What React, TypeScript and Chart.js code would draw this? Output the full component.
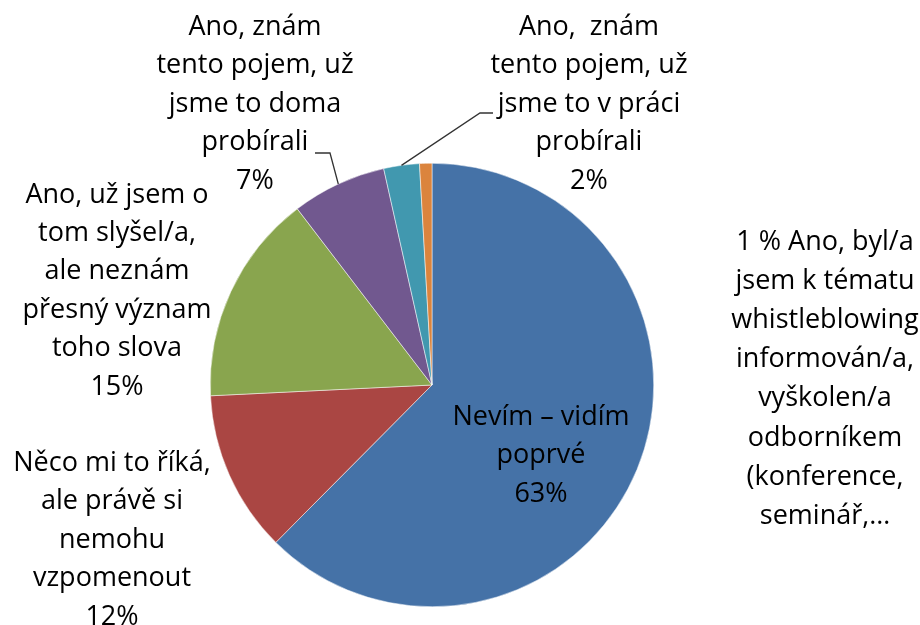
import React, { useEffect, useRef } from "react";
import { Chart, registerables } from "chart.js";

Chart.register(...registerables);

const categories: string[] = [
  "Nevím – vidím poprvé",
  "Něco mi to říká, ale právě si nemohu vzpomenout",
  "Ano, už jsem o tom slyšel/a, ale neznám přesný význam toho slova",
  "Ano, znám tento pojem, už jsme to doma probírali",
  "Ano, znám tento pojem, už jsme to v práci probírali",
  "Ano, byl/a jsem k tématu whistleblowing informován/a, vyškolen/a odborníkem (konference, seminář,…",
];
const values: number[] = [62.5, 11.8, 15.4, 6.9, 2.6, 0.9];
const percentLabels: string[] = ["63%", "12%", "15%", "7%", "2%", "1 %"];
const colors: string[] = ["#4572A7", "#AA4643", "#89A54E", "#71588F", "#4198AF", "#DB843D"];

const labelLines: string[][] = [
  ["Nevím – vidím", "poprvé", "63%"],
  ["Něco mi to říká,", "ale právě si", "nemohu", "vzpomenout", "12%"],
  ["Ano, už jsem o", "tom slyšel/a,", "ale neznám", "přesný význam", "toho slova", "15%"],
  ["Ano, znám", "tento pojem, už", "jsme to doma", "probírali", "7%"],
  ["Ano,  znám", "tento pojem, už", "jsme to v práci", "probírali", "2%"],
  ["1 % Ano, byl/a", "jsem k tématu", "whistleblowing", "informován/a,", "vyškolen/a", "odborníkem", "(konference,", "seminář,…"],
];

// label layout: center x, first line center y, line spacing
const labelLayout = [
  { x: 541, y: 417, dy: 38.5 },
  { x: 112, y: 463, dy: 38.5 },
  { x: 117, y: 195, dy: 38.4 },
  { x: 255, y: 27, dy: 38.5 },
  { x: 589, y: 27, dy: 38.5 },
  { x: 825, y: 242, dy: 39.2 },
];

// leader lines: label-side elbow points (start, elbow)
const leaders: Record<number, number[][]> = {
  3: [[315, 153], [330, 153]],
  4: [[493, 113], [480, 113]],
};

const labelPlugin = {
  id: "pieLabels",
  afterDraw(chart: any) {
    const ctx = chart.ctx;
    const meta = chart.getDatasetMeta(0);
    ctx.save();
    ctx.font = '27px "Open Sans", sans-serif';
    ctx.fillStyle = "#000";
    ctx.textAlign = "center";
    ctx.textBaseline = "middle";
    labelLines.forEach((lines, i) => {
      const l = labelLayout[i];
      lines.forEach((t, j) => ctx.fillText(t, l.x, l.y + j * l.dy));
    });
    ctx.strokeStyle = "#333";
    ctx.lineWidth = 1.3;
    Object.keys(leaders).forEach((k) => {
      const i = Number(k);
      const arc = meta.data[i];
      const p = arc.getProps(["x", "y", "startAngle", "endAngle", "outerRadius"], true);
      const mid = (p.startAngle + p.endAngle) / 2;
      const ax = p.x + Math.cos(mid) * p.outerRadius;
      const ay = p.y + Math.sin(mid) * p.outerRadius;
      const pts = leaders[i];
      ctx.beginPath();
      ctx.moveTo(pts[0][0], pts[0][1]);
      ctx.lineTo(pts[1][0], pts[1][1]);
      ctx.lineTo(ax, ay);
      ctx.stroke();
    });
    ctx.restore();
  },
};

export default function App() {
  const ref = useRef<HTMLCanvasElement>(null);
  useEffect(() => {
    if (!ref.current) return;
    const chart = new Chart(ref.current, {
      type: "pie",
      data: {
        labels: categories,
        datasets: [
          {
            data: values,
            backgroundColor: colors,
            borderColor: "#ffffff",
            borderWidth: 0.5,
          },
        ],
      },
      options: {
        animation: false,
        responsive: false,
        layout: { padding: { left: 210, right: 266, top: 163, bottom: 18 } },
        plugins: {
          legend: { display: false },
          tooltip: { enabled: false },
        },
      },
      plugins: [labelPlugin],
    });
    return () => chart.destroy();
  }, []);
  return (
    <div style={{ position: "absolute", left: 0, top: 0, width: 920, height: 625, background: "#fff" }}>
      <canvas ref={ref} width={920} height={625} style={{ width: 920, height: 625 }} />
    </div>
  );
}
